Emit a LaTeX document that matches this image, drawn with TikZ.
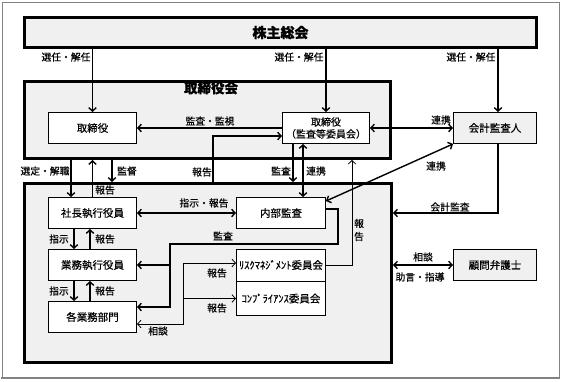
\documentclass[tikz,border=0pt]{standalone}
\usepackage{fontspec}
\setmainfont{Noto Sans CJK JP}[FakeBold=0.4]
\usetikzlibrary{arrows.meta,calc}
\definecolor{boxgray}{RGB}{240,240,240}
\definecolor{framegray}{RGB}{130,130,130}
\begin{document}
\begin{tikzpicture}[x=1pt,y=-1pt,
  bigbox/.style={draw, line width=2.6pt, fill=boxgray, inner sep=0pt},
  whitebox/.style={draw, line width=0.9pt, fill=white, font=\fontsize{10.5}{12}\selectfont, inner sep=0pt, align=center},
  graybox/.style={whitebox, fill=boxgray},
  tip/.tip={Straight Barb[length=3.5pt,width=7.5pt]},
  arr/.style={line width=1.4pt, -tip},
  darr/.style={line width=1.4pt, tip-tip},
  thinarr/.style={line width=0.8pt, -tip},
  thindarr/.style={line width=0.8pt, tip-tip},
  lbl/.style={font=\fontsize{9.8}{11}\selectfont, inner sep=0pt},
  title/.style={font=\fontsize{13.5}{15}\selectfont\bfseries, inner sep=0pt},
]
\useasboundingbox (0,0) rectangle (562,381);
\draw[framegray, line width=1pt] (2,2) rectangle (559,378);
\draw[framegray, line width=2pt] (1,378) -- (560,378);

% big boxes
\node[bigbox, minimum width=512pt, minimum height=30.4pt, font=\fontsize{14}{16}\selectfont\bfseries] (sh) at (280.5,32.5) {株主総会};
\node[bigbox, minimum width=366.4pt, minimum height=77.4pt] (board) at (207.5,120) {};
\node[bigbox, minimum width=367.4pt, minimum height=179.4pt] (exec) at (208,273) {};
\node[title] (boardT) at (211,88) {取締役会};

% small boxes
\node[whitebox, minimum width=88pt, minimum height=31pt] (tor) at (92.5,128) {取締役};
\node[whitebox, minimum width=87pt, minimum height=31pt, font=\fontsize{10}{12}\selectfont] (kan) at (326,128) {取締役\\（監査等委員会）};
\node[graybox, minimum width=83pt, minimum height=31pt] (kaikei) at (495,128) {会計監査人};
\node[whitebox, minimum width=88pt, minimum height=31pt] (pres) at (92.5,213) {社長執行役員};
\node[whitebox, minimum width=88pt, minimum height=31pt] (gyomu) at (92.5,265) {業務執行役員};
\node[whitebox, minimum width=88pt, minimum height=31pt] (bumon) at (92.5,317) {各業務部門};
\node[whitebox, minimum width=89pt, minimum height=31pt] (naibu) at (281,213) {内部監査};
\node[whitebox, minimum width=89pt, minimum height=32pt] (risk) at (281,265) {ﾘｽｸﾏﾈｼﾞﾒﾝﾄ委員会};
\node[whitebox, minimum width=89pt, minimum height=34pt] (comp) at (281,298.5) {ｺﾝﾌﾟﾗｲｱﾝｽ委員会};
\node[graybox, minimum width=83pt, minimum height=31pt] (komon) at (495,265) {顧問弁護士};

% helper coordinates
\coordinate (xh) at (213,0);
\coordinate (m1) at (338,244);
\coordinate (m2) at (170,244);
\coordinate (m3) at (170,307);
\coordinate (t1) at (183,324);
\coordinate (t2) at (183,263);

% shareholders
\draw[arr] (tor.north |- sh.south) -- (tor.north);
\draw[arr] (kan.north |- sh.south) -- (kan.north);
\draw[arr] ([xshift=3pt]kaikei.north |- sh.south) -- ([xshift=3pt]kaikei.north);
\node[lbl] (l1) at (66,57) {選任・解任};
\node[lbl] (l2) at (299,57) {選任・解任};
\node[lbl] (l3) at (471,57) {選任・解任};

% board level
\draw[arr] (kan.west) -- (tor.east);
\node[lbl] (l4) at (210,121) {監査・監視};
\draw[arr] (exec.north -| xh) |- ([yshift=-8pt]kan.west);
\node[lbl] (l5) at (202,172) {報告};
\draw[darr] (kan.east) -- (kaikei.west);
\node[lbl] (l6) at (441,120) {連携};
\draw[darr] (kaikei.south west) -- ([yshift=-4pt]naibu.north east);
\node[lbl] (l7) at (436,166) {連携};
\draw[arr] ([xshift=3pt]kaikei.south) |- ([yshift=60pt]exec.east);
\node[lbl] (l8) at (450,207) {会計監査};
\draw[arr] ([xshift=-33pt]kan.south) -- ([xshift=-33pt]kan.south |- exec.north);
\node[lbl] (l9) at (281,171) {監査};
\draw[darr] ([xshift=-23pt]kan.south) -- ([xshift=-23pt]kan.south |- naibu.north);
\node[lbl] (l10) at (316,171) {連携};
\draw[thinarr] (risk.east) -| ([xshift=144.5pt]board.south);
\node[lbl, align=center, font=\fontsize{9.8}{13}\selectfont] (l11) at (359,230) {報\\告};

% internal audit
\draw[arr] ([yshift=4pt]naibu.east) -| (m1) -- (m2) -- (m3) -- (m3 -| bumon.east);
\draw[arr] (m2 |- gyomu.east) -- (gyomu.east);
\node[lbl] (l12) at (223,236) {監査};

% reports to committees
\draw[thindarr] (t1 -| bumon.east) -- (t1) -- (t2) -- (t2 -| risk.west);
\draw[thinarr] (t1 |- comp.west) -- (comp.west);
\node[lbl] (l13) at (217,273) {報告};
\node[lbl] (l14) at (217,308) {報告};
\node[lbl] (l15) at (158,331) {相談};

% executive chain
\draw[darr] (pres.east) -- (naibu.west);
\node[lbl] (l16) at (204,203) {指示・報告};
\draw[arr] ([xshift=-18.5pt]pres.south) -- ([xshift=-18.5pt]gyomu.north);
\draw[arr] ([xshift=-2.5pt]gyomu.north) -- ([xshift=-2.5pt]pres.south);
\node[lbl] (l17) at (59,239) {指示};
\node[lbl] (l18) at (105,239) {報告};
\draw[arr] ([xshift=-18.5pt]gyomu.south) -- ([xshift=-18.5pt]bumon.north);
\draw[arr] ([xshift=-2.5pt]bumon.north) -- ([xshift=-2.5pt]gyomu.south);
\node[lbl] (l19) at (59,291) {指示};
\node[lbl] (l20) at (105,291) {報告};

% board to executives
\draw[arr] ([xshift=-21.5pt]pres.north |- board.south) -- ([xshift=-21.5pt]pres.north);
\node[lbl] (l21) at (45,171) {選定・解職};
\draw[arr] (pres.north) -- (pres.north |- board.south);
\node[lbl] (l22) at (105,190) {報告};
\draw[arr] ([xshift=19.5pt]pres.north |- board.south) -- ([xshift=19.5pt]pres.north |- exec.north);
\node[lbl] (l23) at (127,171) {監督};

% counsel
\draw[darr] (exec.east |- komon.west) -- (komon.west);
\node[lbl] (l24) at (423,257) {相談};
\node[lbl] (l25) at (420,277) {助言・指導};
\end{tikzpicture}
\end{document}
